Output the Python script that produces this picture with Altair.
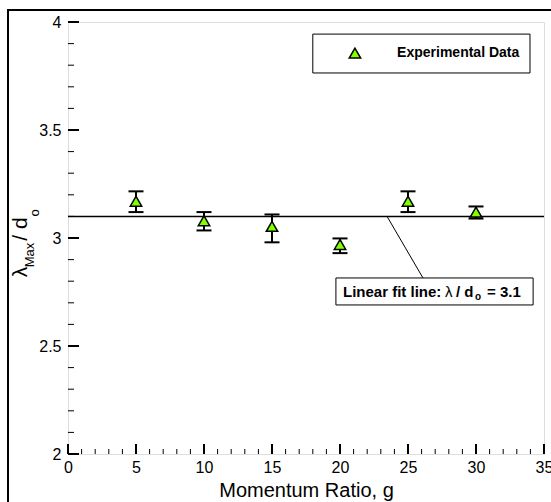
import altair as alt
import pandas as pd

# ---- data ----
momentum_ratio = [5, 10, 15, 20, 25, 30]
lambda_ratio = [3.17, 3.08, 3.054, 2.97, 3.17, 3.12]
err_low = [3.12, 3.035, 2.98, 2.93, 3.12, 3.09]
err_high = [3.216, 3.12, 3.109, 2.998, 3.216, 3.146]
fit_value = 3.1

x_major = [0, 5, 10, 15, 20, 25, 30, 35]
x_minor = [i for i in range(0, 36) if i % 5 != 0]
y_major = [2, 2.5, 3, 3.5, 4]
y_minor = [round(2 + 0.1 * i, 1) for i in range(21) if i % 5 != 0]

FONT = "Liberation Sans"
W, H = 476, 432

df = pd.DataFrame({"g": momentum_ratio, "lam": lambda_ratio, "lo": err_low, "hi": err_high})
one = pd.DataFrame({"a": [0]})

xs = alt.Scale(domain=[0, 35], nice=False, zero=False)
ys = alt.Scale(domain=[2, 4], nice=False, zero=False)

X = alt.X("g:Q", scale=xs, axis=alt.Axis(
    title="Momentum Ratio, g", values=x_major, ticks=False, domain=False, grid=False,
    labelFont=FONT, labelFontSize=16, labelColor="black", labelPadding=5, labelFlush=False,
    titleFont=FONT, titleFontSize=20, titleFontWeight="normal", titleColor="black", titlePadding=5))
Y = alt.Y("lam:Q", scale=ys, axis=alt.Axis(
    title=None, values=y_major, format="~g", ticks=False, domain=False, grid=False,
    labelFont=FONT, labelFontSize=16, labelColor="black", labelPadding=7))

base = alt.Chart(df)

# outer frame of the figure
frame = alt.Chart(one).mark_rect(fill=None, stroke="black", strokeWidth=2).encode(
    x=alt.value(-60), x2=alt.value(620), y=alt.value(-12), y2=alt.value(620))

# fit line
fit = alt.Chart(one).mark_rule(color="black", strokeWidth=1.5).encode(
    x=alt.datum(0, scale=xs), x2=alt.datum(35), y=alt.datum(fit_value, scale=ys))

err = base.mark_rule(color="black", strokeWidth=2).encode(x=X, y=alt.Y("lo:Q", scale=ys), y2="hi:Q")
cap_style = dict(shape="M-1,0L1,0", size=225, filled=False, stroke="black", strokeWidth=2, opacity=1)
cap_lo = base.mark_point(**cap_style).encode(x=X, y=alt.Y("lo:Q", scale=ys))
cap_hi = base.mark_point(**cap_style).encode(x=X, y=alt.Y("hi:Q", scale=ys))
pts = base.mark_point(shape="triangle-up", size=130, filled=True, fill="#80ff00",
                      stroke="black", strokeWidth=1.5, opacity=1).encode(x=X, y=Y)

# inward ticks
xt_major = alt.Chart(pd.DataFrame({"v": x_major})).mark_rule(color="black", strokeWidth=2).encode(
    x=alt.X("v:Q", scale=xs), y=alt.value(H), y2=alt.value(H - 10))
xt_minor = alt.Chart(pd.DataFrame({"v": x_minor})).mark_rule(color="black", strokeWidth=1).encode(
    x=alt.X("v:Q", scale=xs), y=alt.value(H), y2=alt.value(H - 5))
yt_major = alt.Chart(pd.DataFrame({"v": y_major})).mark_rule(color="black", strokeWidth=2).encode(
    y=alt.Y("v:Q", scale=ys), x=alt.value(0), x2=alt.value(11))
yt_minor = alt.Chart(pd.DataFrame({"v": y_minor})).mark_rule(color="black", strokeWidth=1).encode(
    y=alt.Y("v:Q", scale=ys), x=alt.value(0), x2=alt.value(6))

# y axis title with subscripts
def ytitle(txt, size, px, py):
    return alt.Chart(one).mark_text(text=txt, font=FONT, fontSize=size, angle=270,
                                    align="center", baseline="middle", color="black").encode(
        x=alt.value(px), y=alt.value(py))

yt1 = ytitle("λ", 21, -47, 250)
yt2 = ytitle("Max", 13, -38, 233)
yt3 = ytitle("/ d", 21, -47, 207)
yt4 = ytitle("o", 13, -33, 191)

# legend box
leg_box = alt.Chart(one).mark_rect(fill="white", stroke="black", strokeWidth=1).encode(
    x=alt.datum(18.0, scale=xs), x2=alt.datum(33.97), y=alt.datum(3.944, scale=ys), y2=alt.datum(3.764))
leg_sym = alt.Chart(one).mark_point(shape="triangle-up", size=130, filled=True, fill="#80ff00",
                                    stroke="black", strokeWidth=1.5, opacity=1).encode(
    x=alt.datum(21.1, scale=xs), y=alt.datum(3.856, scale=ys))
leg_txt = alt.Chart(one).mark_text(text="Experimental Data", font=FONT, fontSize=14, fontWeight="bold",
                                   align="left", baseline="middle", color="black").encode(
    x=alt.datum(24.2, scale=xs), y=alt.datum(3.856, scale=ys))

# annotation
lead = alt.Chart(one).mark_rule(color="black", strokeWidth=1).encode(
    x=alt.datum(23.46, scale=xs), x2=alt.datum(26.1), y=alt.datum(fit_value, scale=ys), y2=alt.datum(2.815))
ann_box = alt.Chart(one).mark_rect(fill="white", stroke="black", strokeWidth=1).encode(
    x=alt.datum(19.7, scale=xs), x2=alt.datum(34.2), y=alt.datum(2.815, scale=ys), y2=alt.datum(2.69))

def ann(txt, dx, size=15, weight="bold", dy=0):
    return alt.Chart(one).mark_text(text=txt, font=FONT, fontSize=size, fontWeight=weight,
                                    align="left", baseline="middle", color="black", dx=dx, dy=dy).encode(
        x=alt.datum(20.22, scale=xs), y=alt.datum(2.752, scale=ys))

a1 = ann("Linear fit line:", 0)
a2 = ann("λ", 102, weight="normal")
a3 = ann("/ d", 113)
a4 = ann("o", 132, size=10, dy=5)
a5 = ann("= 3.1", 144)

chart = alt.layer(
    frame, fit, err, cap_lo, cap_hi, pts,
    xt_major, xt_minor, yt_major, yt_minor,
    yt1, yt2, yt3, yt4,
    leg_box, leg_sym, leg_txt,
    lead, ann_box, a1, a2, a3, a4, a5,
).properties(
    width=W, height=H,
    autosize=alt.AutoSizeParams(type="none"),
    padding={"left": 68, "top": 22, "right": 7, "bottom": 48},
).configure_view(stroke="black", strokeWidth=2).configure(background="white")

chart.save("out.html", embed_options={"renderer": "svg", "actions": False})
